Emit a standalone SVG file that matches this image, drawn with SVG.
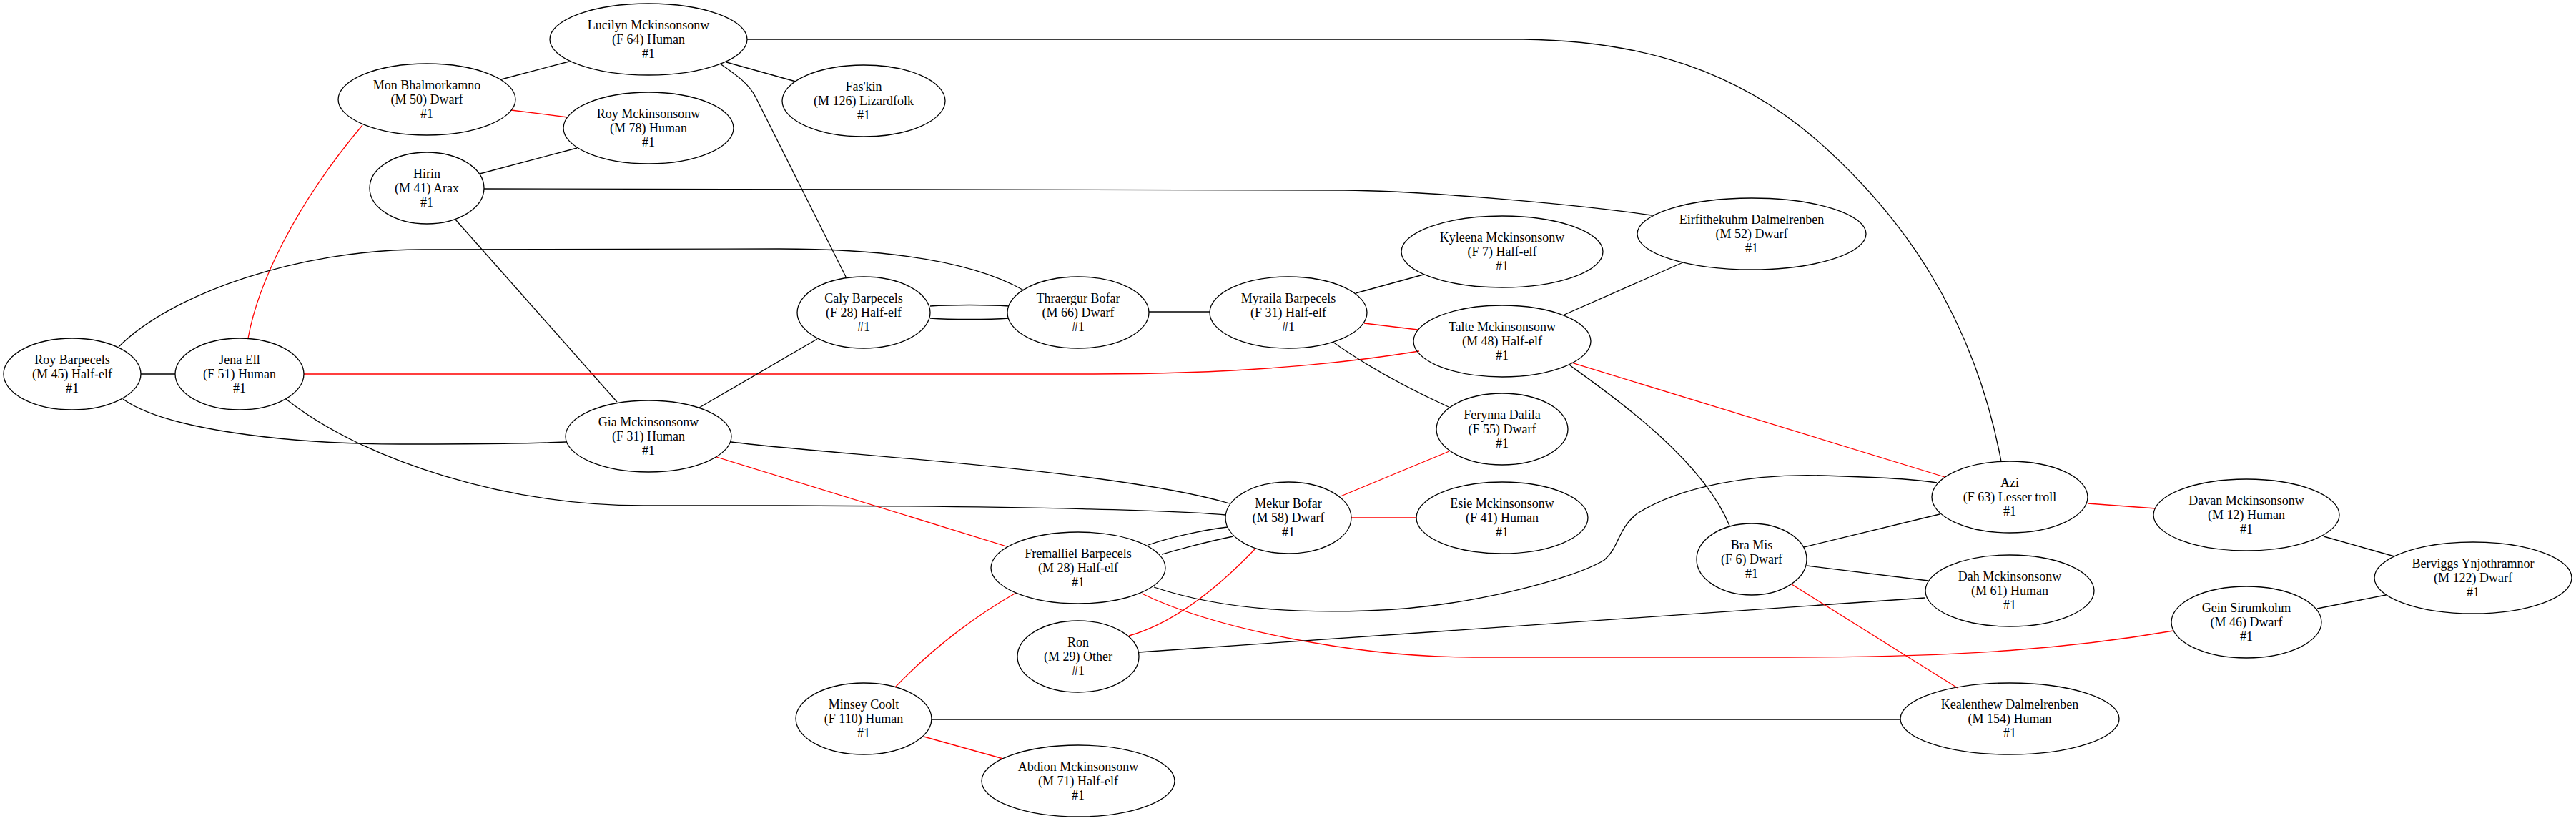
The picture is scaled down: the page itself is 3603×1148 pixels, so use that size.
<svg xmlns="http://www.w3.org/2000/svg" width="3603" height="1148" viewBox="0 0 3603 1148">
<style>
.n ellipse{fill:none;stroke:#000;stroke-width:1.3}
.n text{font-family:"Liberation Serif","Times New Roman",serif;font-size:18px;text-anchor:middle;fill:#000}
.e path{fill:none;stroke:#000;stroke-width:1.3}
.e path.r{stroke:#ff0000}
</style>
<rect width="3603" height="1148" fill="#fff"/>
<g id="edges" class="e">
<path d="M796,86 L701,111"/>
<path d="M1016,87 L1113,114"/>
<path d="M1007,89 C1032,106 1048,118 1057,136 L1183,387"/>
<path d="M1045,55 L2130,55 C2300,57 2430,100 2540,195 C2660,300 2760,440 2799,645"/>
<path class="r" d="M715,154 L794,164"/>
<path class="r" d="M507,175 C410,290 360,400 347,473"/>
<path d="M671,243 L807,207"/>
<path d="M677,264 L1880,266 C1990,267 2200,285 2310,301"/>
<path d="M637,307 L863,562"/>
<path d="M166,485 C240,410 420,349 590,349 L1090,348 C1240,348 1360,365 1432,406"/>
<path d="M197,523 L245,523"/>
<path d="M172,558 C230,600 400,621 560,621 C680,621 750,620 791,618"/>
<path class="r" d="M425,523 L1530,523 C1700,523 1850,513 1985,491"/>
<path d="M400,558 C510,645 710,707 900,707 L1100,707 C1450,708 1650,714 1714,720"/>
<path d="M978,570 L1143,474"/>
<path d="M1023,618 C1150,635 1550,655 1720,704"/>
<path class="r" d="M1002,639 L1408,764"/>
<path d="M1301,428 C1330,426 1382,426 1411,428"/>
<path d="M1301,445 C1330,447 1382,447 1411,445"/>
<path d="M1607,436 L1692,436"/>
<path d="M1896,410 L1991,384"/>
<path class="r" d="M1908,452 L1983,461"/>
<path d="M1864,478 Q1930,525 2026,569"/>
<path d="M2188,440 L2354,367"/>
<path class="r" d="M2198,507 L2720,667"/>
<path d="M2196,511 C2250,550 2380,640 2419,735"/>
<path class="r" d="M2027,631 L1875,694"/>
<path class="r" d="M1890,724 L1981,724"/>
<path d="M1606,762 C1640,750 1690,740 1717,737"/>
<path d="M1625,775 C1660,765 1700,755 1725,750"/>
<path class="r" d="M1755,768 Q1661,866 1579,889"/>
<path d="M1614,821 C1700,850 1800,858 1912,854 C2050,850 2200,810 2244,783 C2265,765 2262,740 2290,718 C2350,680 2450,662 2550,665 C2620,667 2680,670 2709,675"/>
<path class="r" d="M1597,830 C1700,880 1900,919 2060,919 L2500,919 C2750,919 2900,906 3040,882"/>
<path class="r" d="M1421,829 C1375,855 1310,900 1252,961"/>
<path d="M1593,912 L2692,836"/>
<path d="M1303,1006 L2658,1006"/>
<path class="r" d="M1292,1030 L1403,1061"/>
<path d="M2713,719 L2523,765"/>
<path class="r" d="M2920,704 L3015,711"/>
<path d="M2527,791 L2697,812"/>
<path class="r" d="M2506,817 L2738,962"/>
<path d="M3250,750 L3349,778"/>
<path d="M3241,851 L3337,832"/>
</g>
<g id="n_lucilyn" class="n"><ellipse cx="907" cy="55" rx="138" ry="50"/><text x="907" y="41">Lucilyn Mckinsonsonw</text><text x="907" y="61">(F 64) Human</text><text x="907" y="81">#1</text></g>
<g id="n_mon" class="n"><ellipse cx="597" cy="139" rx="124" ry="50"/><text x="597" y="125">Mon Bhalmorkamno</text><text x="597" y="145">(M 50) Dwarf</text><text x="597" y="165">#1</text></g>
<g id="n_roym" class="n"><ellipse cx="907" cy="179" rx="119" ry="50"/><text x="907" y="165">Roy Mckinsonsonw</text><text x="907" y="185">(M 78) Human</text><text x="907" y="205">#1</text></g>
<g id="n_hirin" class="n"><ellipse cx="597" cy="263" rx="80" ry="50"/><text x="597" y="249">Hirin</text><text x="597" y="269">(M 41) Arax</text><text x="597" y="289">#1</text></g>
<g id="n_faskin" class="n"><ellipse cx="1208" cy="141" rx="114" ry="50"/><text x="1208" y="127">Fas'kin</text><text x="1208" y="147">(M 126) Lizardfolk</text><text x="1208" y="167">#1</text></g>
<g id="n_royb" class="n"><ellipse cx="101" cy="523" rx="96" ry="50"/><text x="101" y="509">Roy Barpecels</text><text x="101" y="529">(M 45) Half-elf</text><text x="101" y="549">#1</text></g>
<g id="n_jena" class="n"><ellipse cx="335" cy="523" rx="90" ry="50"/><text x="335" y="509">Jena Ell</text><text x="335" y="529">(F 51) Human</text><text x="335" y="549">#1</text></g>
<g id="n_gia" class="n"><ellipse cx="907" cy="610" rx="116" ry="50"/><text x="907" y="596">Gia Mckinsonsonw</text><text x="907" y="616">(F 31) Human</text><text x="907" y="636">#1</text></g>
<g id="n_caly" class="n"><ellipse cx="1208" cy="437" rx="93" ry="50"/><text x="1208" y="423">Caly Barpecels</text><text x="1208" y="443">(F 28) Half-elf</text><text x="1208" y="463">#1</text></g>
<g id="n_thraergur" class="n"><ellipse cx="1508" cy="437" rx="99" ry="50"/><text x="1508" y="423">Thraergur Bofar</text><text x="1508" y="443">(M 66) Dwarf</text><text x="1508" y="463">#1</text></g>
<g id="n_myraila" class="n"><ellipse cx="1802" cy="437" rx="110" ry="50"/><text x="1802" y="423">Myraila Barpecels</text><text x="1802" y="443">(F 31) Half-elf</text><text x="1802" y="463">#1</text></g>
<g id="n_kyleena" class="n"><ellipse cx="2101" cy="352" rx="141" ry="50"/><text x="2101" y="338">Kyleena Mckinsonsonw</text><text x="2101" y="358">(F 7) Half-elf</text><text x="2101" y="378">#1</text></g>
<g id="n_talte" class="n"><ellipse cx="2101" cy="477" rx="124" ry="50"/><text x="2101" y="463">Talte Mckinsonsonw</text><text x="2101" y="483">(M 48) Half-elf</text><text x="2101" y="503">#1</text></g>
<g id="n_eirfithekuhm" class="n"><ellipse cx="2450" cy="327" rx="160" ry="50"/><text x="2450" y="313">Eirfithekuhm Dalmelrenben</text><text x="2450" y="333">(M 52) Dwarf</text><text x="2450" y="353">#1</text></g>
<g id="n_ferynna" class="n"><ellipse cx="2101" cy="600" rx="92" ry="50"/><text x="2101" y="586">Ferynna Dalila</text><text x="2101" y="606">(F 55) Dwarf</text><text x="2101" y="626">#1</text></g>
<g id="n_mekur" class="n"><ellipse cx="1802" cy="724" rx="88" ry="50"/><text x="1802" y="710">Mekur Bofar</text><text x="1802" y="730">(M 58) Dwarf</text><text x="1802" y="750">#1</text></g>
<g id="n_esie" class="n"><ellipse cx="2101" cy="724" rx="120" ry="50"/><text x="2101" y="710">Esie Mckinsonsonw</text><text x="2101" y="730">(F 41) Human</text><text x="2101" y="750">#1</text></g>
<g id="n_fremalliel" class="n"><ellipse cx="1508" cy="794" rx="122" ry="50"/><text x="1508" y="780">Fremalliel Barpecels</text><text x="1508" y="800">(M 28) Half-elf</text><text x="1508" y="820">#1</text></g>
<g id="n_ron" class="n"><ellipse cx="1508" cy="918" rx="85" ry="50"/><text x="1508" y="904">Ron</text><text x="1508" y="924">(M 29) Other</text><text x="1508" y="944">#1</text></g>
<g id="n_minsey" class="n"><ellipse cx="1208" cy="1005" rx="95" ry="50"/><text x="1208" y="991">Minsey Coolt</text><text x="1208" y="1011">(F 110) Human</text><text x="1208" y="1031">#1</text></g>
<g id="n_abdion" class="n"><ellipse cx="1508" cy="1092" rx="135" ry="50"/><text x="1508" y="1078">Abdion Mckinsonsonw</text><text x="1508" y="1098">(M 71) Half-elf</text><text x="1508" y="1118">#1</text></g>
<g id="n_azi" class="n"><ellipse cx="2811" cy="695" rx="109" ry="50"/><text x="2811" y="681">Azi</text><text x="2811" y="701">(F 63) Lesser troll</text><text x="2811" y="721">#1</text></g>
<g id="n_davan" class="n"><ellipse cx="3142" cy="720" rx="130" ry="50"/><text x="3142" y="706">Davan Mckinsonsonw</text><text x="3142" y="726">(M 12) Human</text><text x="3142" y="746">#1</text></g>
<g id="n_bramis" class="n"><ellipse cx="2450" cy="782" rx="77" ry="50"/><text x="2450" y="768">Bra Mis</text><text x="2450" y="788">(F 6) Dwarf</text><text x="2450" y="808">#1</text></g>
<g id="n_dah" class="n"><ellipse cx="2811" cy="826" rx="118" ry="50"/><text x="2811" y="812">Dah Mckinsonsonw</text><text x="2811" y="832">(M 61) Human</text><text x="2811" y="852">#1</text></g>
<g id="n_berviggs" class="n"><ellipse cx="3459" cy="808" rx="138" ry="50"/><text x="3459" y="794">Berviggs Ynjothramnor</text><text x="3459" y="814">(M 122) Dwarf</text><text x="3459" y="834">#1</text></g>
<g id="n_gein" class="n"><ellipse cx="3142" cy="870" rx="105" ry="50"/><text x="3142" y="856">Gein Sirumkohm</text><text x="3142" y="876">(M 46) Dwarf</text><text x="3142" y="896">#1</text></g>
<g id="n_kealenthew" class="n"><ellipse cx="2811" cy="1005" rx="153" ry="50"/><text x="2811" y="991">Kealenthew Dalmelrenben</text><text x="2811" y="1011">(M 154) Human</text><text x="2811" y="1031">#1</text></g>
</svg>
